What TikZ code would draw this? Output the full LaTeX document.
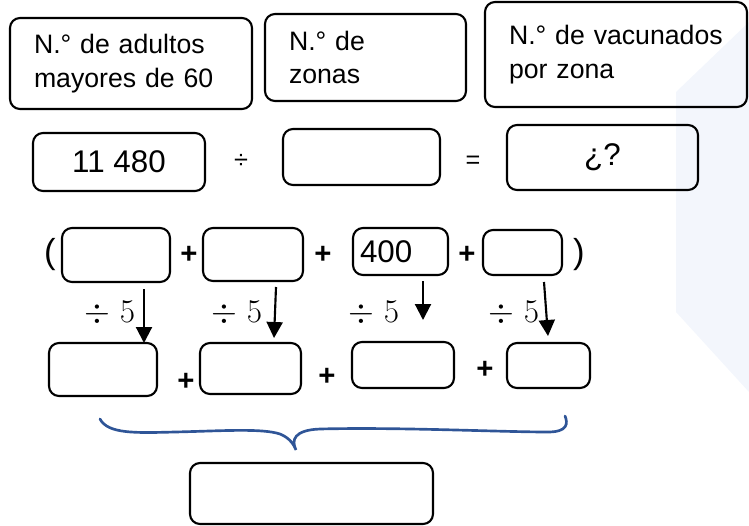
\documentclass[tikz,border=0pt]{standalone}
\usepackage{fontspec}
\setmainfont{Liberation Sans}
\usepackage{tikz}
\usetikzlibrary{arrows.meta}
\definecolor{braceblue}{HTML}{2F5597}
\definecolor{panelblue}{HTML}{F3F6FC}

\begin{document}
\begin{tikzpicture}[x=0.75pt,y=0.75pt,yscale=-1,xscale=1,
  box/.style={draw, rounded corners=7.5pt, line width=1.6pt, inner sep=0pt},
  caja/.style={box, align=left, inner xsep=18pt, font=\fontsize{20}{25}\selectfont},
  num/.style={font=\fontsize{23.5}{28}\selectfont},
  signo/.style={font=\fontsize{19}{22}\selectfont, inner sep=0.75pt},
  mas/.style={font=\fontsize{22}{26}\selectfont\bfseries, inner sep=0.75pt},
  paren/.style={font=\fontsize{26}{30}\selectfont, inner sep=0.75pt},
  divlab/.style={font=\fontsize{24}{28}\selectfont, inner sep=0.75pt},
  flecha/.style={-{Triangle[length=12pt,width=12pt]}, line width=1.6pt}
]
\useasboundingbox (0,0) rectangle (749,525);

%Shape: Background panel
\fill[panelblue] (676,92) -- (749,22) -- (749,392) -- (676,312) -- cycle;

%Rounded Rect: headings
\node[caja, text width=145.5pt, minimum height=68.25pt] (adultos) at (131,63.5) {N.° de adultos\\mayores de 60};
\node[caja, text width=114.75pt, minimum height=65.25pt] (zonas) at (365.5,57.5) {N.° de\\zonas};
\node[caja, text width=160.5pt, minimum height=78.75pt] (vacunados) at (616,54.5) {N.° de vacunados\\por zona};

%Rounded Rect: division
\node[box, num, minimum width=129pt, minimum height=43.5pt] (total) at (119,162) {11 480};
\node[signo] (entre) at (241,161) {÷};
\node[box, minimum width=117.75pt, minimum height=42pt] (divisor) at (361.5,157) {};
\node[signo] (igual) at (473,162) {=};
\node[box, num, minimum width=143.25pt, minimum height=48.75pt] (cociente) at (602.5,157.5) {¿?};

%Rounded Rect: sum in brackets
\node[paren] (abre) at (50,255) {(};
\node[box, minimum width=81pt, minimum height=40.5pt] (a1) at (116,255) {};
\node[mas] (p1) at (189,255) {+};
\node[box, minimum width=75pt, minimum height=39.75pt] (a2) at (253,254.5) {};
\node[mas] (p2) at (323,255) {+};
\node[box, num, align=left, text width=60.75pt, inner xsep=5.25pt, minimum height=35.25pt] (a3) at (400.5,251.5) {400};
\node[mas] (p3) at (467,255) {+};
\node[box, minimum width=59.25pt, minimum height=33.75pt] (a4) at (522.5,252.5) {};
\node[paren] (cierra) at (579,255) {)};

% Arrow ends
\coordinate (s1) at (144,289);
\coordinate (e1) at (144,343);
\coordinate (s2) at (276,287);
\coordinate (e2) at (274,338);
\coordinate (s3) at (423,281);
\coordinate (e3) at (423,320);
\coordinate (s4) at (544,282);
\coordinate (e4) at (548,336);

%Straight Lines
\draw[flecha] (s1) -- (e1);
\draw[flecha] (s2) -- (e2);
\draw[flecha] (s3) -- (e3);
\draw[flecha] (s4) -- (e4);

% Text Node
\node[divlab] (d1) at (110,313) {$\div\;5$};
\node[divlab] (d2) at (237,313) {$\div\;5$};
\node[divlab] (d3) at (374,313) {$\div\;5$};
\node[divlab] (d4) at (514,313) {$\div\;5$};

%Rounded Rect: fifths
\node[box, minimum width=81pt, minimum height=39.75pt] (b1) at (103,369.5) {};
\node[mas] (q1) at (186,382) {+};
\node[box, minimum width=75.75pt, minimum height=38.25pt] (b2) at (250.5,368.5) {};
\node[mas] (q2) at (327,377) {+};
\node[box, minimum width=76.5pt, minimum height=34.5pt] (b3) at (403,365) {};
\node[mas] (q3) at (485,370) {+};
\node[box, minimum width=62.25pt, minimum height=33.75pt] (b4) at (548.5,365.5) {};

%Curve Lines: brace
\draw[braceblue, line width=2pt, line cap=round] (100,419) .. controls (108,434) and (135,433) .. (175,432) .. controls (220,431) and (262,428) .. (280,434) .. controls (290,438) and (294,445) .. (296,450) .. controls (291,440) and (294,430) .. (320,429) .. controls (400,427) and (500,432) .. (548,432) .. controls (568,432) and (568,423) .. (565,416);

%Rounded Rect: result
\node[box, minimum width=182.25pt, minimum height=45.75pt] (suma) at (311.5,493.5) {};

\end{tikzpicture}
\end{document}
